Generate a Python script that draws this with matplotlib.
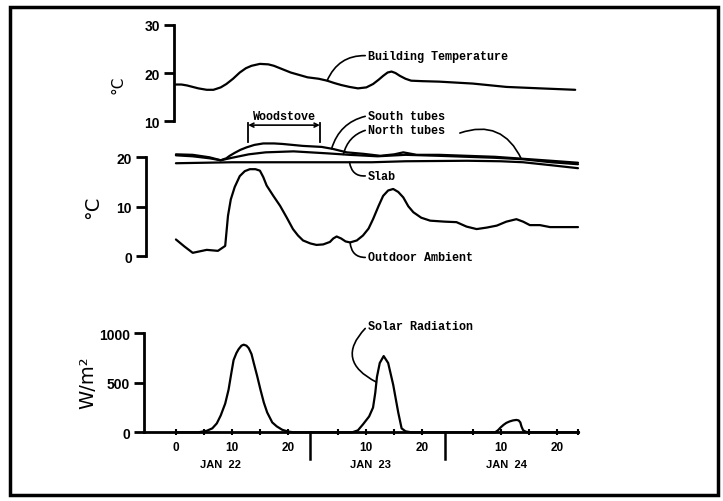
import numpy as np
import matplotlib
matplotlib.use("Agg")
import matplotlib.pyplot as plt
from matplotlib.patches import Rectangle

# ---------------- data (hours from 0:00 Jan 22) ----------------
bt_hours = [0, 1, 2, 3, 4, 5.5, 6.7, 8, 9, 10.2, 11.4, 12.5, 13.5, 15, 16.5, 17.5, 19,
            20.5, 22, 23.5, 25.5, 27, 28.3, 29.5, 31, 32.5, 34, 35.2, 36.2, 37, 37.8,
            38.5, 39.2, 40, 41, 42, 44, 47, 53, 59, 65, 71.3]
bt_temp = [17.6, 17.6, 17.4, 17.1, 16.8, 16.5, 16.5, 17.0, 17.7, 18.8, 20.1, 21.0, 21.5,
           21.9, 21.8, 21.5, 20.8, 20.1, 19.6, 19.1, 18.8, 18.4, 17.9, 17.5, 17.1, 16.8,
           17.0, 17.7, 18.6, 19.4, 20.1, 20.3, 20.0, 19.4, 18.8, 18.4, 18.3, 18.2, 17.8,
           17.1, 16.8, 16.5]

south_hours = [0, 3, 6, 8, 9, 9.6, 10.5, 11.5, 12.6, 14, 15.6, 17.5, 19, 22.7, 26, 28,
               30.5, 33.5, 36.5, 39, 40.6, 43, 47, 52, 57, 62, 67, 71.8]
south_temp = [20.6, 20.5, 20.0, 19.4, 19.8, 20.3, 20.9, 21.5, 22.0, 22.5, 22.8, 22.8,
              22.7, 22.3, 22.1, 21.7, 21.0, 20.7, 20.3, 20.6, 21.0, 20.5, 20.5, 20.3,
              20.1, 19.7, 19.3, 18.9]

north_hours = [0, 3, 6, 8, 10, 13, 16, 21, 27, 31, 36, 41, 47, 52, 57, 62, 67, 71.8]
north_temp = [20.4, 20.2, 19.8, 19.4, 19.9, 20.6, 21.0, 21.2, 20.8, 20.5, 20.2, 20.5,
              20.3, 20.1, 19.9, 19.6, 19.0, 18.6]

slab_hours = [0, 10, 25, 35, 41, 52, 58, 62, 67, 71.8]
slab_temp = [18.8, 19.0, 19.0, 19.0, 19.2, 19.3, 19.2, 19.0, 18.4, 17.8]

out_hours = [0, 1.5, 3, 5.5, 7.5, 8.8, 9.3, 9.8, 10.5, 11.4, 12.3, 13.2, 14.2, 15, 15.6,
             16.2, 17.4, 18.6, 19.8, 20.9, 21.8, 22.7, 24, 25.1, 26.3, 27.5, 28.1, 28.7,
             29.5, 30.3, 31.1, 32.3, 33.4, 34.4, 35.2, 36.2, 37, 37.9, 38.8, 39.7, 40.6,
             41.5, 42.4, 43.8, 45.4, 48, 50.1, 51.9, 53.7, 55.5, 57.3, 59, 60.8, 62,
             63.2, 65, 66.8, 69, 71.8]
out_temp = [3.4, 2.0, 0.7, 1.3, 1.1, 2.1, 8.2, 11.5, 14.0, 16.2, 17.2, 17.6, 17.6, 17.3,
            16.0, 14.3, 12.2, 10.2, 7.8, 5.5, 4.2, 3.2, 2.6, 2.3, 2.4, 2.9, 3.6, 4.0,
            3.6, 3.0, 2.8, 3.2, 4.2, 5.6, 7.5, 10.2, 12.2, 13.3, 13.6, 13.0, 11.9,
            10.1, 8.9, 7.8, 7.2, 7.0, 6.9, 6.0, 5.5, 5.8, 6.2, 7.0, 7.5, 7.0,
            6.3, 6.3, 5.9, 5.9, 5.9]

sol_hours = [0, 4, 5.5, 6.5, 7.3, 8, 8.8, 9.4, 9.9, 10.3, 10.8, 11.2, 11.7, 12.1, 12.6,
             13, 13.5, 13.9, 14.5, 15.1, 15.7, 16.3, 17.2, 18, 19, 20, 21,
             31.5, 32.5, 33.4, 34.5, 35.2, 35.6, 35.9, 36.4, 37.1, 37.9, 38.8, 39.7,
             40.3, 41, 42,
             57, 57.5, 58, 58.5, 59, 59.6, 60.2, 60.8, 61.2, 61.5, 61.7, 62, 62.5, 63, 72]
sol_rad = [0, 0, 15, 40, 90, 170, 290, 430, 600, 730, 800, 840, 875, 885, 875,
           850, 790, 700, 570, 430, 300, 200, 100, 60, 25, 8, 0,
           0, 20, 80, 160, 250, 400, 560, 700, 770, 700, 480, 200,
           40, 10, 0,
           0, 20, 50, 75, 95, 110, 120, 125, 120, 100, 60, 20, 5, 0, 0]

tick_pos = [0, 10, 20, 34, 44, 58, 68]
tick_lab = ['0', '10', '20', '10', '20', '10', '20']
minor_pos = [5, 15, 29, 39, 53, 63, 71.8]
day_breaks = [24, 48]
day_labels = ['JAN  22', 'JAN  23', 'JAN  24']
day_label_pos = [7.9, 34.7, 59.1]

# ---------------- layout ----------------
W, H = 723, 502
fig = plt.figure(figsize=(W / 100, H / 100), dpi=100)
fig.patch.set_facecolor('white')


def rect(x0, ytop, x1, ybot):
    return [x0 / W, 1 - ybot / H, (x1 - x0) / W, (ybot - ytop) / H]


XL = (-5.7, 71.8)
mono = dict(family='Liberation Mono', weight='bold', size=8.5)
tickfont = dict(family='Liberation Sans', weight='bold', size=10)
LW = 1.6
line_kw = dict(color='black', lw=LW, solid_joinstyle='round', solid_capstyle='round')

ax1 = fig.add_axes(rect(144, 26, 578, 122))
ax2 = fig.add_axes(rect(144, 158.3, 578, 257.3))
ax3 = fig.add_axes(rect(144, 334.3, 578, 433.3))

for ax in (ax1, ax2, ax3):
    ax.set_xlim(*XL)
    ax.patch.set_alpha(0)
    for s in ('top', 'right'):
        ax.spines[s].set_visible(False)
    ax.spines['left'].set_linewidth(2)
    ax.tick_params(axis='y', direction='out', length=7, width=2, pad=3)

for ax in (ax1, ax2):
    ax.spines['bottom'].set_visible(False)
    ax.set_xticks([])

# top panel: building temperature
ax1.set_ylim(10, 30)
ax1.spines['left'].set_position(('data', -0.4))
ax1.set_yticks([10, 20, 30])
ax1.set_yticklabels(['10', '20', '30'], **tickfont)
ax1.plot(bt_hours, bt_temp, **line_kw)
ax1.annotate('Building Temperature', xy=(27, float(np.interp(27, bt_hours, bt_temp))),
             xytext=(34.3, 23.6), va='center', ha='left', **mono,
             arrowprops=dict(arrowstyle='-', lw=1.2, color='black', relpos=(0, 0.5),
                             shrinkA=0, shrinkB=0, connectionstyle='arc3,rad=0.35'))

# middle panel
ax2.set_ylim(0, 20)
ax2.spines['left'].set_position(('data', -5.4))
ax2.set_yticks([0, 10, 20])
ax2.set_yticklabels(['0', '10', '20'], **tickfont)
for hx, vy in ((south_hours, south_temp), (north_hours, north_temp),
               (slab_hours, slab_temp), (out_hours, out_temp)):
    ax2.plot(hx, vy, clip_on=False, **line_kw)


def arc(r):
    return dict(arrowstyle='-', lw=1.2, color='black', relpos=(0, 0.5),
                shrinkA=0, shrinkB=0, connectionstyle=f'arc3,rad={r}')


ax2.annotate('South tubes', xy=(27.8, float(np.interp(27.8, south_hours, south_temp))),
             xytext=(34.3, 28.4), va='center', ha='left', **mono,
             arrowprops=arc(0.3), annotation_clip=False)
ax2.annotate('North tubes', xy=(29.9, float(np.interp(29.9, north_hours, north_temp))),
             xytext=(34.3, 25.6), va='center', ha='left', **mono,
             arrowprops=arc(0.3), annotation_clip=False)
ax2.annotate('', xy=(61.7, float(np.interp(61.7, north_hours, north_temp))),
             xytext=(50.7, 24.9), annotation_clip=False,
             arrowprops=dict(arrowstyle='-', lw=1.2, color='black', shrinkA=0, shrinkB=0,
                             connectionstyle='arc3,rad=-0.45'))
ax2.annotate('Slab', xy=(31, float(np.interp(31, slab_hours, slab_temp))),
             xytext=(34.3, 16.3), va='center', ha='left', **mono,
             arrowprops=arc(-0.5), annotation_clip=False)
ax2.annotate('Outdoor Ambient', xy=(31.1, float(np.interp(31.1, out_hours, out_temp))),
             xytext=(34.3, -0.2), va='center', ha='left', **mono,
             arrowprops=arc(-0.5), annotation_clip=False)

# woodstove bracket
ws_a, ws_b = 12.9, 25.7
ax2.annotate('', xy=(ws_a, 26.5), xytext=(ws_b, 26.5), annotation_clip=False,
             arrowprops=dict(arrowstyle='<->', lw=1.2, color='black', shrinkA=0,
                             shrinkB=0, mutation_scale=7))
for xb in (ws_a, ws_b):
    ax2.plot([xb, xb], [23.0, 26.9], color='black', lw=1.3, clip_on=False)
ax2.text((ws_a + ws_b) / 2, 28.4, 'Woodstove', ha='center', va='center', **mono)

# bottom panel: solar radiation
ax3.set_ylim(0, 1000)
ax3.set_yticks([0, 500, 1000])
ax3.set_yticklabels(['0', '500', '1000'], **tickfont)
ax3.spines['bottom'].set_linewidth(2)
ax3.plot(sol_hours, sol_rad, clip_on=False, **line_kw)
ax3.set_xticks(tick_pos)
ax3.set_xticklabels(tick_lab, family='Liberation Sans', weight='bold', size=8.5)
ax3.set_xticks(minor_pos, minor=True)
ax3.tick_params(axis='x', which='both', direction='inout', length=5, width=1.5, pad=4)
for xb in day_breaks:
    ax3.plot([xb, xb], [0, -270], color='black', lw=1.8, clip_on=False)
for xl, tl in zip(day_label_pos, day_labels):
    ax3.text(xl, -320, tl, ha='center', va='center', family='Liberation Sans',
             weight='bold', size=8)
ax3.annotate('Solar Radiation', xy=(35.8, float(np.interp(35.8, sol_hours, sol_rad))),
             xytext=(34.3, 1077), va='center', ha='left', **mono,
             arrowprops=arc(0.7), annotation_clip=False)

# axis unit labels
fig.text(118 / W, 1 - 85 / H, '°C', rotation=90, ha='center', va='center',
         family='DejaVu Sans', size=11)
fig.text(93 / W, 1 - 207 / H, '°C', rotation=90, ha='center', va='center',
         family='DejaVu Sans', size=14)
fig.text(88 / W, 1 - 383 / H, 'W/m²', rotation=90, ha='center', va='center',
         family='DejaVu Sans', size=14)

# outer frame
fig.add_artist(Rectangle((10 / W, 1 - 496 / H), 708 / W, 488 / H, transform=fig.transFigure,
                         fill=False, lw=2.5, edgecolor='black'))

fig.savefig('out.png', dpi=100, facecolor='white')
